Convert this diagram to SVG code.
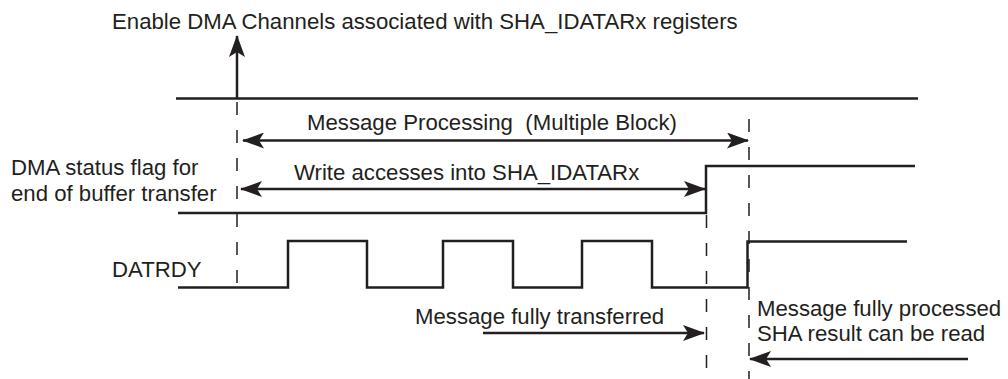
<svg xmlns="http://www.w3.org/2000/svg" width="1008" height="379" viewBox="0 0 1008 379">
<style>
text{font-family:"Liberation Sans",Arial,sans-serif;font-size:22.2px;fill:#231f20;white-space:pre}
.sig{fill:none;stroke:#231f20;stroke-width:2.5}
.dash{fill:none;stroke:#231f20;stroke-width:1.5;stroke-dasharray:13 15}
.arr{fill:none;stroke:#231f20;stroke-width:2.5}
</style>
<defs>
<marker id="ah" viewBox="0 0 22 16" refX="21" refY="8" markerWidth="22" markerHeight="16" markerUnits="userSpaceOnUse" orient="auto-start-reverse">
<path d="M0,0 L22,8 L0,16 L5,8 Z" fill="#231f20"/>
</marker>
</defs>
<rect width="1008" height="379" fill="#fff"/>
<g id="title"><text x="112" y="29">Enable DMA Channels associated with SHA_IDATARx registers</text></g>
<g id="enable-line"><path class="sig" d="M176,98.5 H918"/></g>
<g id="dma-flag">
<text x="11" y="175">DMA status flag for</text>
<text x="11" y="201">end of buffer transfer</text>
<path class="sig" d="M178,213 H706 V166 H915"/>
</g>
<g id="datrdy">
<text x="112" y="277">DATRDY</text>
<path class="sig" d="M178,287.5 H288 V241 H367 V287.5 H443 V241 H513 V287.5 H582 V241 H652 V287.5 H747.5 V241.5 H907"/>
</g>
<g id="labels">
<text x="307" y="130" xml:space="preserve">Message Processing  (Multiple Block)</text>
<text x="294" y="180">Write accesses into SHA_IDATARx</text>
<text x="415" y="324">Message fully transferred</text>
<text x="757" y="316">Message fully processed</text>
<text x="757" y="341">SHA result can be read</text>
</g>
<g id="connectors">
<path class="dash" d="M237,102 V290"/>
<path class="dash" d="M706.5,215 V379"/>
<path class="dash" d="M749,119 V379"/>
<path class="arr" d="M237,98 V36" marker-end="url(#ah)"/>
<path class="arr" d="M243,140.5 H748" marker-start="url(#ah)" marker-end="url(#ah)"/>
<path class="arr" d="M241,189 H705" marker-start="url(#ah)" marker-end="url(#ah)"/>
<path class="arr" d="M483,333 H704" marker-end="url(#ah)"/>
<path class="arr" d="M968,359 H750" marker-end="url(#ah)"/>
</g>
</svg>
